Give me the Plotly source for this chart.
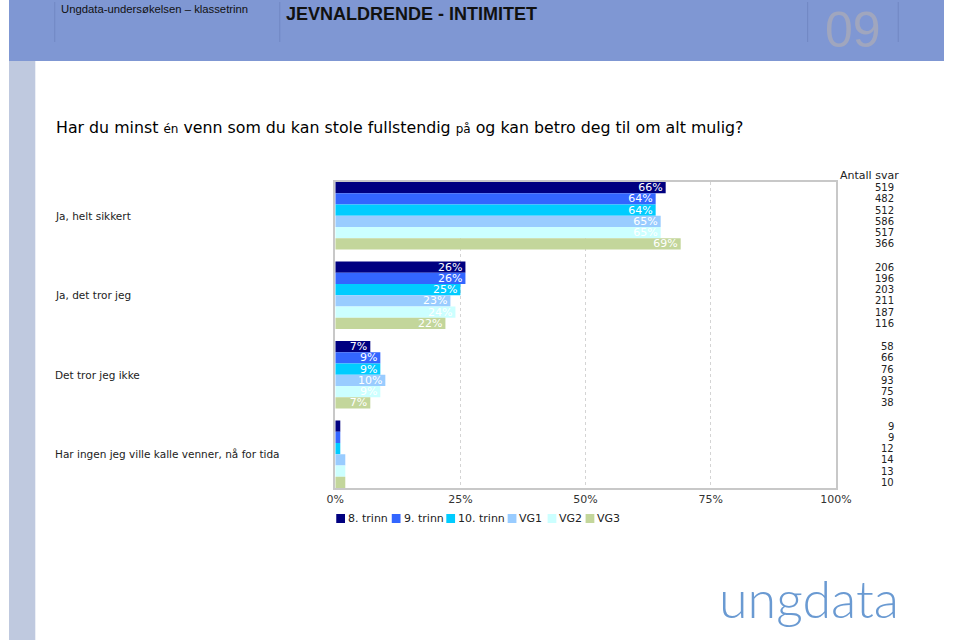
import plotly.graph_objects as go

# ---------------- data ----------------
categories = ["Ja, helt sikkert", "Ja, det tror jeg", "Det tror jeg ikke",
              "Har ingen jeg ville kalle venner, nå for tida"]
series_names = ["8. trinn", "9. trinn", "10. trinn", "VG1", "VG2", "VG3"]

pct_8 = [66, 26, 7, 1]
pct_9 = [64, 26, 9, 1]
pct_10 = [64, 25, 9, 1]
pct_vg1 = [65, 23, 10, 2]
pct_vg2 = [65, 24, 9, 2]
pct_vg3 = [69, 22, 7, 2]

n_8 = [519, 206, 58, 9]
n_9 = [482, 196, 66, 9]
n_10 = [512, 203, 76, 12]
n_vg1 = [586, 211, 93, 14]
n_vg2 = [517, 187, 75, 13]
n_vg3 = [366, 116, 38, 10]

x_tick_vals = [0, 25, 50, 75, 100]
x_tick_text = ["0%", "25%", "50%", "75%", "100%"]

colors = ["#000080", "#3366FF", "#00CCFF", "#99CCFF", "#CCFFFF", "#C3D69B"]

pcts = [pct_8, pct_9, pct_10, pct_vg1, pct_vg2, pct_vg3]
counts = [n_8, n_9, n_10, n_vg1, n_vg2, n_vg3]

W, H = 960, 640
def px(x):
    return x / W
def py(y):
    return 1 - y / H

FONT = "DejaVu Sans, Verdana, sans-serif"
HFONT = "Liberation Sans, Arial, sans-serif"

fig = go.Figure()
for name, vals, col in zip(series_names, pcts, colors):
    fig.add_trace(go.Bar(
        y=categories, x=vals, name=name, orientation="h",
        marker=dict(color=col, line=dict(width=0)),
        text=[f"{v}%" if v >= 5 else "" for v in vals],
        textposition="inside", insidetextanchor="end",
        constraintext="none", textangle=0, cliponaxis=False,
        textfont=dict(color="white", size=11, family=FONT),
        showlegend=False, hoverinfo="x+name",
    ))

BARGAP = 0.15
nser = len(series_names)
ncat = len(categories)
half = (1 - BARGAP) / 2

fig.update_layout(
    width=W, height=H,
    margin=dict(l=0, r=0, t=0, b=0),
    paper_bgcolor="white", plot_bgcolor="white",
    barmode="group", bargap=BARGAP, bargroupgap=0,
    xaxis=dict(domain=[px(335), px(849)], range=[0, 100],
               tickvals=x_tick_vals, ticktext=x_tick_text,
               tickfont=dict(family=FONT, size=11, color="#333"),
               showgrid=True, gridcolor="#D4D4D4", griddash="dot", gridwidth=1,
               zeroline=False, showline=True, linecolor="#C8C8C8", linewidth=1.5,
               mirror=True, ticks="", fixedrange=True),
    yaxis=dict(domain=[py(488), py(182)],
               range=[ncat - 1 + half, -half],
               showticklabels=False, showgrid=False, zeroline=False,
               showline=True, linecolor="#C8C8C8", linewidth=1.5, mirror=True,
               ticks="", fixedrange=True),
)

shapes = []
annotations = []

# header band and left strip
shapes.append(dict(type="rect", xref="paper", yref="paper", x0=0, x1=1,
                   y0=py(61), y1=1, fillcolor="#7F97D3", line=dict(width=0), layer="below"))
shapes.append(dict(type="rect", xref="paper", yref="paper", x0=0, x1=px(27),
                   y0=0, y1=py(61), fillcolor="#BFC9DF", line=dict(width=0), layer="below"))
for xl in [47, 278, 820, 913]:
    shapes.append(dict(type="line", xref="paper", yref="paper", x0=px(xl), x1=px(xl),
                       y0=py(42), y1=py(2), line=dict(color="rgba(95,115,175,0.45)", width=1)))

annotations.append(dict(xref="paper", yref="paper", x=px(51), y=py(9), xanchor="left",
                        yanchor="middle", showarrow=False,
                        text="Ungdata-undersøkelsen – klassetrinn",
                        font=dict(family=HFONT, size=11.3, color="#111")))
annotations.append(dict(xref="paper", yref="paper", x=px(282), y=py(14), xanchor="left",
                        yanchor="middle", showarrow=False,
                        text="<b>JEVNALDRENDE - INTIMITET</b>",
                        font=dict(family=HFONT, size=18, color="#111")))
annotations.append(dict(xref="paper", yref="paper", x=px(867), y=py(0.5), xanchor="center",
                        yanchor="top", showarrow=False, text="09",
                        font=dict(family=HFONT, size=50, color="#A0A6BE")))

# question title
annotations.append(dict(xref="paper", yref="paper", x=px(46.5), y=py(127), xanchor="left",
                        yanchor="middle", showarrow=False,
                        text=("Har du minst <span style='font-size:12px'>én</span> venn som du kan stole "
                              "fullstendig <span style='font-size:12px'>på</span> og kan betro deg til om alt mulig?"),
                        font=dict(family=FONT, size=15.8, color="#000")))

# category labels
for cat in categories:
    annotations.append(dict(xref="paper", yref="y", x=px(45), y=cat, xanchor="left",
                            yanchor="middle", showarrow=False, text=cat,
                            font=dict(family=FONT, size=10.5, color="#222")))

# Antall svar column
annotations.append(dict(xref="paper", yref="paper", x=px(916), y=py(175), xanchor="right",
                        yanchor="middle", showarrow=False, text="Antall svar",
                        font=dict(family=FONT, size=11, color="#222")))
step = (1 - BARGAP) / nser
for j, cvals in enumerate(counts):
    for i, c in enumerate(cvals):
        annotations.append(dict(xref="paper", yref="y", x=px(911),
                                y=i + (j - (nser - 1) / 2) * step,
                                xanchor="right", yanchor="middle", showarrow=False,
                                text=str(c), font=dict(family=FONT, size=10, color="#222")))

# legend (compact, drawn beneath the axis)
leg_x = [335, 392, 448, 511, 552, 591]
for xl, name, col in zip(leg_x, series_names, colors):
    shapes.append(dict(type="rect", xref="paper", yref="paper", x0=px(xl + 1), x1=px(xl + 10),
                       y0=py(523), y1=py(514), fillcolor=col, line=dict(width=0)))
    annotations.append(dict(xref="paper", yref="paper", x=px(xl + 11), y=py(518.5),
                            xanchor="left", yanchor="middle", showarrow=False, text=name,
                            font=dict(family=FONT, size=11, color="#222")))

# logo
annotations.append(dict(xref="paper", yref="paper", x=px(821), y=py(598), xanchor="center",
                        yanchor="middle", showarrow=False, text="ungdata",
                        font=dict(family="Lato, Inter, sans-serif", size=52, color="#6A9AD2",
                                  weight=300)))

fig.update_layout(shapes=shapes, annotations=annotations)
js = """
document.body.style.margin='0';
document.body.style.overflow='hidden';
document.documentElement.style.overflow='hidden';
"""
fig.write_html("out.html", post_script=js, config={"displayModeBar": False})
